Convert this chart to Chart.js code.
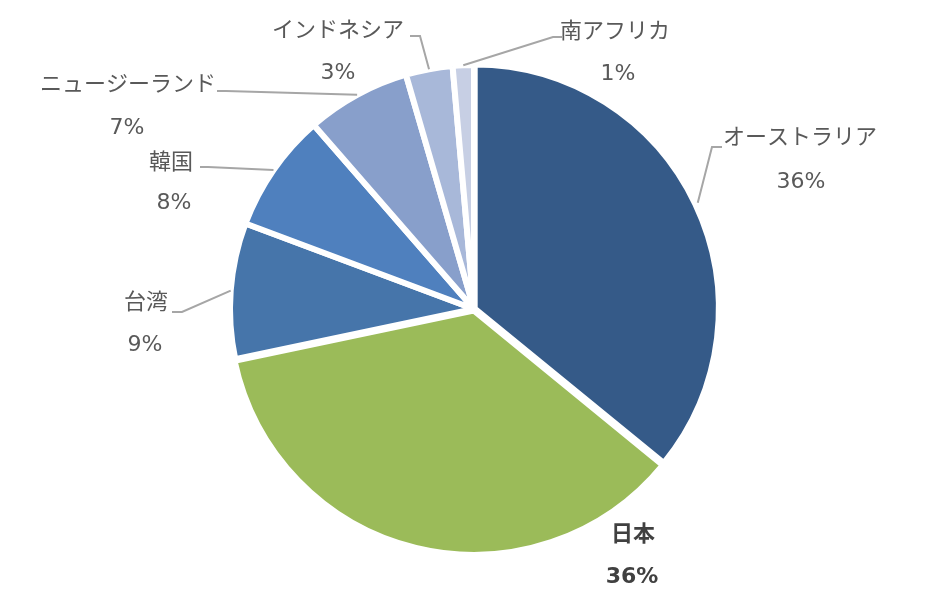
<!DOCTYPE html>
<html lang="ja">
<head>
<meta charset="utf-8">
<title>Pie</title>
<script src="https://cdn.jsdelivr.net/npm/chart.js@4.4.1/dist/chart.umd.min.js"></script>
<style>
  html, body { margin: 0; padding: 0; background: #fff; }
  #wrap { width: 947px; height: 590px; }
</style>
</head>
<body>
<div id="wrap"><canvas id="pie" width="947" height="590"></canvas></div>
<script>
// shares by country, clockwise from 12 o'clock
const countries = ["オーストラリア", "日本", "台湾", "韓国", "ニュージーランド", "インドネシア", "南アフリカ"];
const shares = [35.9, 35.8, 9.0, 7.9, 6.9, 3.1, 1.4];
const sliceColors = ["#355A88", "#9BBB59", "#4675AA", "#4F80BE", "#889FCB", "#A8B8D9", "#C7CFE4"];

// where each label sits: text centres, and the leader line bend / end (null = no line)
const labelLayout = [
  { name: [800, 138], pct: [801, 182], bend: [712, 147], end: [722, 147] },
  { name: [633, 535], pct: [632, 577], bend: null, end: null, bold: true },
  { name: [146, 303], pct: [145, 345], bend: [182, 312], end: [172, 312] },
  { name: [171, 163], pct: [174, 203], bend: [208, 167], end: [200, 167] },
  { name: [128, 85], pct: [127, 128], bend: [226, 91], end: [217, 91] },
  { name: [338, 31], pct: [338, 73], bend: [420, 36], end: [410, 36] },
  { name: [615, 32], pct: [618, 74], bend: [553, 37], end: [562, 37] },
];

const BORDER = 6;
const RADIUS = 241;

const sliceLabels = {
  id: "sliceLabels",
  afterDatasetsDraw(chart) {
    const ctx = chart.ctx;
    const meta = chart.getDatasetMeta(0);
    const total = shares.reduce((a, b) => a + b, 0);

    ctx.save();
    meta.data.forEach((arc, i) => {
      const lay = labelLayout[i];
      const p = arc.getProps(["x", "y", "startAngle", "endAngle", "outerRadius"], true);
      const mid = (p.startAngle + p.endAngle) / 2;
      const circ = p.endAngle - p.startAngle;
      const off = arc.options.offset || 0;
      const shift = off * (2 - Math.sin(Math.min(Math.PI, circ)));
      const r = p.outerRadius - BORDER / 2 + 3 + shift;
      const ax = p.x + Math.cos(mid) * r;
      const ay = p.y + Math.sin(mid) * r;

      if (lay.bend) {
        ctx.beginPath();
        ctx.moveTo(ax, ay);
        ctx.lineTo(lay.bend[0], lay.bend[1]);
        ctx.lineTo(lay.end[0], lay.end[1]);
        ctx.strokeStyle = "#A6A6A6";
        ctx.lineWidth = 2;
        ctx.stroke();
      }

      ctx.textAlign = "center";
      ctx.textBaseline = "middle";
      ctx.fillStyle = lay.bold ? "#404040" : "#595959";
      ctx.font = (lay.bold ? "bold " : "") + '22px "DejaVu Sans", "Noto Sans CJK JP", sans-serif';
      ctx.fillText(countries[i], lay.name[0], lay.name[1]);
      ctx.fillText(Math.round((shares[i] / total) * 100) + "%", lay.pct[0], lay.pct[1]);
    });
    ctx.restore();
  },
};

new Chart(document.querySelector("#pie"), {
  type: "pie",
  data: {
    labels: countries,
    datasets: [
      {
        data: shares,
        backgroundColor: sliceColors,
        borderColor: "#ffffff",
        borderWidth: BORDER,
        offset: [3, 6, 0, 0, 0, 0, 0],
        radius: RADIUS + BORDER / 2,
      },
    ],
  },
  options: {
    responsive: false,
    animation: false,
    devicePixelRatio: 1,
    layout: {
      padding: { top: 28, bottom: 0, left: 1, right: 0 },
    },
    plugins: {
      legend: { display: false },
      tooltip: { enabled: false },
    },
  },
  plugins: [sliceLabels],
});
</script>
</body>
</html>
